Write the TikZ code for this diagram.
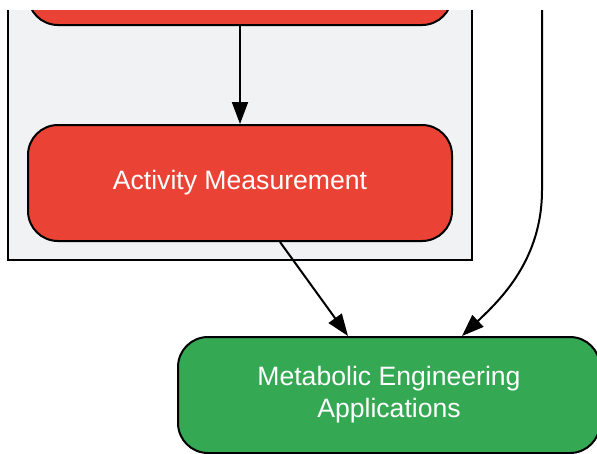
\documentclass[tikz,border=0pt]{standalone}
\usepackage{fontspec}
\setmainfont{Liberation Sans}
\usepackage{tikz}
\usetikzlibrary{positioning}
\usetikzlibrary{arrows.meta}
\definecolor{gred}{HTML}{EA4335}
\definecolor{ggreen}{HTML}{34A853}
\definecolor{ggrey}{HTML}{F1F2F4}

\begin{document}
\begin{tikzpicture}[x=1pt, y=-1pt, node distance={98pt},
  box/.style = {draw, line width=2pt, rounded corners=30pt, minimum width=424pt, minimum height=116pt, text=white, font=\fontsize{26.6}{32}\selectfont, align=center},
  flow/.style = {line width=2pt, -{Triangle[length=22pt, width=16pt]}}]
\useasboundingbox (0,0) rectangle (597,453);
\clip (0,10) rectangle (597,453);
\draw[line width=2pt, fill=ggrey] (8,-20) rectangle (472,260);
\node[box, fill=gred] (design) at (240,-33) {};
\node[box, fill=gred] (activity) [below=of design] {Activity Measurement};
\node[box, fill=ggreen, minimum width=422pt] (apps) at (389,395) {Metabolic Engineering\\Applications};
\coordinate (side) at (542,10);
\draw[flow] (design) -- (activity);
\draw[flow] ([xshift=40pt]activity.south) -- ([xshift=-41pt]apps.north);
\draw[flow] (side) -- (542,190) .. controls (542,260) and (500,300) .. ([xshift=73pt]apps.north);
\end{tikzpicture}
\end{document}
